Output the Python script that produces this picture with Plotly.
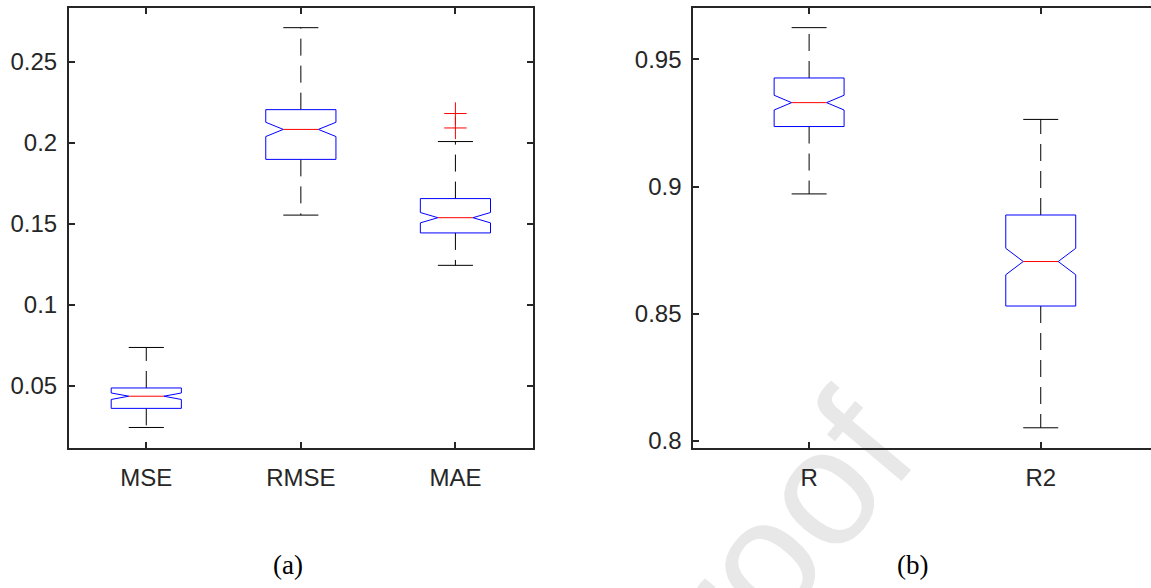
import plotly.graph_objects as go

# ---------------- data ----------------
# panel (a)
a_cats = ["MSE", "RMSE", "MAE"]
a_lower = [0.0242, 0.1553, 0.1243]
a_q1 = [0.0360, 0.1897, 0.1443]
a_median = [0.0435, 0.2082, 0.1537]
a_q3 = [0.0486, 0.2204, 0.1655]
a_upper = [0.0736, 0.2710, 0.2007]
a_notch = [0.0020, 0.0044, 0.0032]
a_outliers = [[], [], [0.2180, 0.2091]]
a_yticks = [0.05, 0.1, 0.15, 0.2, 0.25]
a_yticklabels = ["0.05", "0.1", "0.15", "0.2", "0.25"]

# panel (b)
b_cats = ["R", "R2"]
b_lower = [0.8971, 0.8051]
b_q1 = [0.9236, 0.8530]
b_median = [0.9330, 0.8705]
b_q3 = [0.9427, 0.8888]
b_upper = [0.9625, 0.9264]
b_notch = [0.0029, 0.0052]
b_outliers = [[], []]
b_yticks = [0.8, 0.85, 0.9, 0.95]
b_yticklabels = ["0.8", "0.85", "0.9", "0.95"]

captions = ["(a)", "(b)"]
watermark = "proof"

# ---------------- styling ----------------
W, H = 1151, 588
AX = "#262626"
TICKFONT = dict(family="Liberation Sans, Arial, sans-serif", size=24, color=AX)


def box_traces(cats, lower, q1, med, q3, upper, notch, outliers, width, xa, ya):
    hw = width / 2.0
    nw = hw * 0.5
    cw = hw * 0.5
    bx, by, mx, my, wx, wy, cx, cy, ox, oy = [], [], [], [], [], [], [], [], [], []
    for i in range(len(cats)):
        p = i + 1
        nlo, nhi = med[i] - notch[i], med[i] + notch[i]
        bx += [p - hw, p - hw, p - nw, p - hw, p - hw, p + hw, p + hw, p + nw, p + hw, p + hw, p - hw, None]
        by += [q1[i], nlo, med[i], nhi, q3[i], q3[i], nhi, med[i], nlo, q1[i], q1[i], None]
        mx += [p - nw, p + nw, None]
        my += [med[i], med[i], None]
        wx += [p, p, None, p, p, None]
        wy += [q3[i], upper[i], None, q1[i], lower[i], None]
        cx += [p - cw, p + cw, None, p - cw, p + cw, None]
        cy += [upper[i], upper[i], None, lower[i], lower[i], None]
        for v in outliers[i]:
            ox.append(p)
            oy.append(v)
    common = dict(xaxis=xa, yaxis=ya, showlegend=False, hoverinfo="skip")
    tr = [
        go.Scatter(x=wx, y=wy, mode="lines", line=dict(color="black", width=1, dash="17px,10px"), **common),
        go.Scatter(x=cx, y=cy, mode="lines", line=dict(color="black", width=1), **common),
        go.Scatter(x=bx, y=by, mode="lines", line=dict(color="#0000ff", width=1), **common),
        go.Scatter(x=mx, y=my, mode="lines", line=dict(color="#ff0000", width=1), **common),
    ]
    if ox:
        tr.append(go.Scatter(x=ox, y=oy, mode="markers",
                             marker=dict(symbol="cross-thin", size=16, line=dict(color="#ff0000", width=1)),
                             **common))
    return tr


fig = go.Figure()
for t in box_traces(a_cats, a_lower, a_q1, a_median, a_q3, a_upper, a_notch, a_outliers, 0.454, "x", "y"):
    fig.add_trace(t)
for t in box_traces(b_cats, b_lower, b_q1, b_median, b_q3, b_upper, b_notch, b_outliers, 0.302, "x2", "y2"):
    fig.add_trace(t)

axcommon = dict(showgrid=False, zeroline=False, showline=True, linecolor=AX, linewidth=2,
                ticks="inside", ticklen=6, tickwidth=1.5, tickcolor=AX, tickfont=TICKFONT)

a_x0, a_x1 = 69 / W, 532.7 / W
b_x0 = 693.3 / W
y0, y1 = (H - 453) / H, (H - 8) / H

fig.update_layout(
    width=W, height=H,
    margin=dict(l=0, r=0, t=0, b=0),
    paper_bgcolor="white", plot_bgcolor="white",
    xaxis=dict(domain=[a_x0, a_x1], range=[0.5, 3.5], tickvals=[1, 2, 3], ticktext=a_cats,
               anchor="y", mirror="ticks", ticklabelstandoff=7, **axcommon),
    yaxis=dict(domain=[y0, y1], range=[0.0113, 0.2832], tickvals=a_yticks, ticktext=a_yticklabels,
               anchor="x", mirror="ticks", ticklabelstandoff=5, **axcommon),
    xaxis2=dict(domain=[b_x0, 1.0], range=[0.5, 2.476], tickvals=[1, 2], ticktext=b_cats,
                anchor="y2", mirror="ticks", ticklabelstandoff=7, **axcommon),
    yaxis2=dict(domain=[y0, y1], range=[0.797, 0.97026], tickvals=b_yticks, ticktext=b_yticklabels,
                anchor="x2", mirror=False, ticklabelstandoff=5, **axcommon),
)

cap_x = [288 / W, 912 / W]
for txt, cxp in zip(captions, cap_x):
    fig.add_annotation(text=txt, x=cxp, y=(H - 571) / H, xref="paper", yref="paper",
                       xanchor="center", yanchor="middle", showarrow=False,
                       font=dict(family="Liberation Serif, Times New Roman, serif", size=27, color="black"))

wx0, wy0 = 745 / W, (H - 560) / H
fig.add_shape(type="rect", xref="paper", yref="paper",
              x0=wx0 - 0.001, x1=wx0 + 0.001, y0=wy0 - 0.001, y1=wy0 + 0.001,
              line=dict(width=0), fillcolor="rgba(0,0,0,0)", layer="below",
              label=dict(text=watermark, textangle=-50, textposition="middle center",
                         font=dict(family="Liberation Sans, Arial, sans-serif", size=165, color="#e8e8e8")))

fig.write_html("out.html")
